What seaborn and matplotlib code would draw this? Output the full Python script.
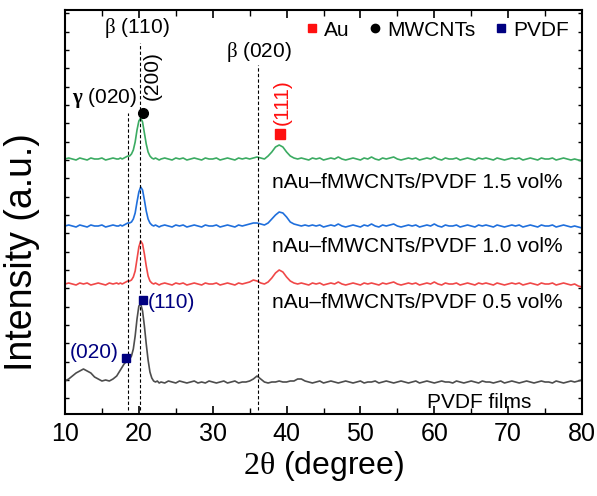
import numpy as np
import matplotlib
matplotlib.use('Agg')
import matplotlib.pyplot as plt
from matplotlib.lines import Line2D
import seaborn as sns

# 2theta grid (coarse away from the main PVDF peak, finer around it)
two_theta = np.concatenate([np.arange(10.0, 17.01, 0.5),
                            np.arange(17.25, 23.01, 0.25),
                            np.arange(23.5, 80.01, 0.5)])

# intensities (a.u., curves already stacked)
pvdf_films = [33, 35, 38, 41, 43, 45, 43, 41, 37, 35, 33, 34, 33, 35, 38,
              41, 44, 47, 50, 52, 53, 55, 58, 65, 78, 95, 108, 110, 103, 88, 70, 54, 42, 36, 33, 32, 33, 31, 32,
              31, 33, 32, 31, 33, 32, 31, 32, 33, 31,
              32, 31, 33, 32, 31, 32, 33, 31, 32, 33,
              31, 32, 32, 33, 35, 38, 35, 32, 31, 32,
              32, 33, 32, 32, 33, 33, 35, 35, 33, 32,
              31, 32, 33, 31, 32, 33, 32, 31, 32, 33,
              32, 31, 32, 33, 31, 32, 32, 33, 31, 32,
              33, 32, 31, 32, 33, 32, 31, 32, 33, 31,
              32, 33, 32, 31, 32, 33, 32, 32, 31, 33,
              32, 31, 32, 33, 32, 31, 33, 32, 32, 31,
              32, 33, 31, 32, 33, 32, 31, 32, 33, 32,
              31, 32, 33, 32, 32, 31, 33, 32, 31, 32,
              33, 32, 33, 34]

vol_05 = [130, 131, 130, 129, 131, 130, 131, 129, 130, 131, 130, 129, 131, 130, 131,
          130, 131, 130, 131, 132, 133, 133, 134, 137, 143, 155, 167, 173, 170, 160, 148, 138, 133, 131, 130, 131, 130, 129, 130,
          131, 130, 129, 131, 130, 131, 129, 130, 131, 130,
          129, 131, 130, 130, 131, 129, 130, 131, 130, 129,
          131, 130, 131, 132, 134, 133, 131, 130, 132, 136,
          141, 144, 142, 137, 133, 131, 130, 131, 130, 129,
          131, 130, 131, 129, 130, 131, 130, 132, 130, 129,
          130, 131, 130, 129, 131, 130, 131, 130, 129, 131,
          130, 131, 132, 130, 129, 130, 131, 130, 131, 129,
          130, 131, 130, 132, 130, 129, 131, 130, 130, 131,
          129, 130, 131, 130, 129, 131, 130, 131, 130, 129,
          131, 130, 129, 130, 131, 130, 131, 129, 130, 131,
          130, 129, 131, 130, 130, 131, 129, 130, 131, 130,
          129, 130, 128, 127]

vol_10 = [188, 189, 188, 187, 189, 188, 187, 189, 188, 188, 189, 187, 188, 189, 188,
          188, 189, 188, 189, 190, 191, 191, 192, 195, 201, 212, 222, 227, 224, 214, 203, 195, 191, 189, 188, 189, 188, 187, 188,
          189, 188, 187, 189, 188, 189, 187, 188, 189, 188,
          187, 189, 188, 188, 189, 187, 188, 189, 188, 187,
          189, 188, 189, 190, 191, 191, 190, 189, 191, 195,
          199, 202, 201, 197, 192, 190, 189, 188, 189, 188,
          189, 188, 189, 187, 188, 189, 188, 190, 188, 187,
          188, 189, 188, 187, 189, 188, 190, 188, 187, 189,
          188, 189, 190, 188, 187, 188, 189, 188, 189, 187,
          188, 189, 188, 190, 188, 187, 189, 188, 188, 189,
          187, 188, 189, 188, 187, 189, 188, 189, 188, 187,
          189, 188, 187, 188, 189, 188, 189, 187, 188, 189,
          188, 187, 189, 188, 188, 189, 187, 188, 189, 188,
          187, 188, 187, 186]

vol_15 = [255, 256, 255, 254, 256, 255, 254, 256, 255, 255, 256, 254, 255, 256, 255,
          255, 256, 255, 256, 257, 258, 258, 260, 264, 272, 284, 293, 296, 292, 281, 270, 262, 258, 256, 255, 256, 255, 254, 255,
          256, 255, 254, 256, 255, 256, 254, 255, 256, 255,
          254, 256, 255, 255, 256, 254, 255, 256, 255, 254,
          256, 255, 256, 255, 256, 257, 256, 255, 258, 262,
          267, 269, 267, 262, 258, 256, 255, 256, 255, 254,
          256, 255, 256, 254, 255, 256, 255, 257, 255, 254,
          255, 256, 255, 254, 256, 255, 257, 255, 254, 256,
          255, 256, 257, 255, 254, 255, 256, 255, 256, 254,
          255, 256, 255, 257, 255, 254, 256, 255, 255, 256,
          254, 255, 256, 255, 254, 256, 255, 256, 255, 254,
          256, 255, 254, 255, 256, 255, 256, 254, 255, 256,
          255, 254, 256, 255, 255, 256, 254, 255, 256, 255,
          254, 255, 254, 253]

series_labels = ['PVDF films', 'nAu–fMWCNTs/PVDF 0.5 vol%',
                 'nAu–fMWCNTs/PVDF 1.0 vol%', 'nAu–fMWCNTs/PVDF 1.5 vol%']
series_colors = ['#4d4d4d', '#f04848', '#1f6fdc', '#3bab62']
label_x = [73.1, 77.4, 77.4, 77.4]
label_y = [12, 112, 168, 231]

# reference lines: gamma(020), beta(110), beta(020)
ref_pos = [18.5, 20.15, 36.1]
ref_top = [301, 371, 349]

# peak markers
au_peak = (39.1, 280)
cnt_peak = (20.6, 301)
pvdf_peaks_x = [18.2, 20.5]
pvdf_peaks_y = [56, 114]

sns.set_theme(style='ticks')
plt.rcParams['font.family'] = ['Liberation Sans', 'DejaVu Sans']
plt.rcParams['mathtext.fontset'] = 'custom'
plt.rcParams['mathtext.rm'] = 'Liberation Serif'
plt.rcParams['mathtext.bf'] = 'Liberation Serif:bold'
plt.rcParams['text.color'] = 'black'
plt.rcParams['axes.labelcolor'] = 'black'
plt.rcParams['xtick.color'] = 'black'
plt.rcParams['ytick.color'] = 'black'

fig = plt.figure(figsize=(5.97, 4.96), dpi=100)
ax = fig.add_axes([65 / 597, 1 - 414 / 496, 517 / 597, 404 / 496])

for ys, c in zip([pvdf_films, vol_05, vol_10, vol_15], series_colors):
    sns.lineplot(x=two_theta, y=ys, color=c, lw=1.2, ax=ax, sort=False)

for lab, lx, ly in zip(series_labels, label_x, label_y):
    ax.text(lx, ly, lab, fontsize=15, ha='right', va='center', color='black')

ax.vlines(ref_pos, 4, ref_top, colors='black', linestyles=(0, (3, 2)), lw=0.8)

ax.plot(*au_peak, 's', color='#ff1010', ms=7)
ax.plot(*cnt_peak, 'o', color='black', ms=7)
ax.plot(pvdf_peaks_x, pvdf_peaks_y, 's', color='#000080', ms=6, ls='none')

ax.text(39.4, 289, '(111)', color='#ff1010', fontsize=15, rotation=90, ha='center', va='bottom')
ax.text(21.8, 314, '(200)', color='black', fontsize=15, rotation=90, ha='center', va='bottom')
ax.text(21.2, 112, '(110)', color='#000080', fontsize=15, ha='left', va='center')
ax.text(17.2, 62, '(020)', color='#000080', fontsize=15, ha='right', va='center')
ax.text(19.8, 386, r'$\mathrm{\beta}$ (110)', fontsize=15, ha='center', va='center', color='black')
ax.text(36.3, 362, r'$\mathrm{\beta}$ (020)', fontsize=15, ha='center', va='center', color='black')
ax.text(15.4, 316, r'$\mathbf{\gamma}$ (020)', fontsize=15, ha='center', va='center', color='black')

handles = [Line2D([], [], marker='s', color='#ff1010', ls='none', ms=6, label='Au'),
           Line2D([], [], marker='o', color='black', ls='none', ms=6, label='MWCNTs'),
           Line2D([], [], marker='s', color='#000080', ls='none', ms=6, label='PVDF')]
leg = ax.legend(handles=handles, ncol=3, loc='center right', bbox_to_anchor=(0.975, 0.95),
                frameon=False, fontsize=15, handletextpad=0.1, columnspacing=0.7,
                handlelength=1.0, borderaxespad=0, borderpad=0)
for t in leg.get_texts():
    t.set_color('black')

ax.set_xlim(10, 80)
ax.set_ylim(0, 404)
ax.set_xticks(np.arange(10, 81, 10))
ax.set_xticks(np.arange(15, 80, 10), minor=True)
ax.set_yticks(np.arange(15.7, 404, 18.33))
ax.set_yticklabels([])
ax.tick_params(axis='x', which='major', direction='in', length=6, width=1.2,
               labelsize=18, top=True, pad=6)
ax.tick_params(axis='x', which='minor', direction='in', length=4, width=1.0, top=True)
ax.tick_params(axis='y', direction='in', length=3, width=1.0, left=True, right=True)
for s in ax.spines.values():
    s.set_linewidth(1.5)
    s.set_color('black')

ax.set_xlabel(r'$\mathrm{2\theta}$ (degree)', fontsize=23, labelpad=2)
ax.set_ylabel('Intensity (a.u.)', fontsize=27)
ax.yaxis.set_label_coords(-0.048, 0.40)

fig.savefig('out.png', dpi=100)
